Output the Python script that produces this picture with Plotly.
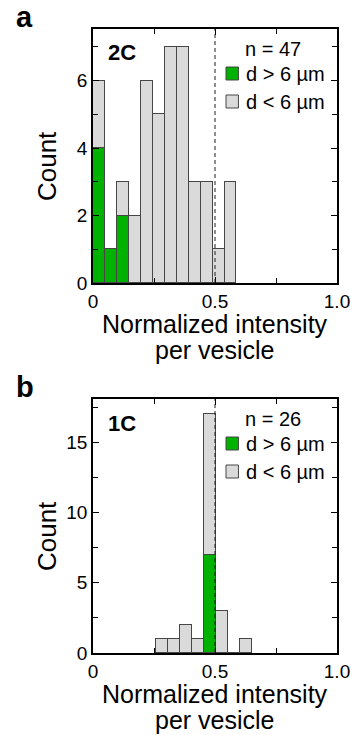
import plotly.graph_objects as go

# ---------------- data ----------------
# panel a (2C)
a_bin_centers = [0.0245, 0.0735, 0.1225, 0.1715, 0.2205, 0.2695, 0.3185, 0.3675, 0.4165, 0.4655, 0.5145, 0.5635]
a_green = [4, 1, 2, 0, 0, 0, 0, 0, 0, 0, 0, 0]          # d > 6 um
a_gray = [2, 0, 1, 2, 6, 5, 7, 7, 3, 3, 1, 3]           # d < 6 um (stacked on top)
a_n = 47
# panel b (1C)
b_bin_centers = [0.2833, 0.3323, 0.3813, 0.4303, 0.4793, 0.5283, 0.5773, 0.6263]
b_green = [0, 0, 0, 0, 7, 0, 0, 0]
b_gray = [1, 1, 2, 1, 10, 3, 0, 1]
b_n = 26
bin_width = 0.049

x_tickvals = [0, 0.5, 1.0]
x_ticktext = ["0", "0.5", "1.0"]
a_ytickvals = [0, 2, 4, 6]
b_ytickvals = [0, 5, 10, 15]
a_yrange = [0, 7.53]
b_yrange = [0, 18.1]
threshold = 0.5

GREEN = "rgb(0,178,0)"
GRAY = "rgb(218,218,218)"
EDGE = "rgb(70,70,70)"
FONT = "Liberation Sans, Arial, sans-serif"

W, H = 362, 735
L, R, T, B = 93, 14, 29, 82
PW, PH = W - L - R, H - T - B


def px(x):
    return (x - L) / PW


def py(y):
    return (H - B - y) / PH


fig = go.Figure()

for xa, ya, centers, green, gray in (("x", "y", a_bin_centers, a_green, a_gray),
                                      ("x2", "y2", b_bin_centers, b_green, b_gray)):
    fig.add_trace(go.Bar(x=centers, y=green, width=bin_width,
                         marker=dict(color=GREEN, line=dict(color=EDGE, width=1)),
                         xaxis=xa, yaxis=ya, showlegend=False))
    fig.add_trace(go.Bar(x=centers, y=gray, width=bin_width,
                         marker=dict(color=GRAY, line=dict(color=EDGE, width=1)),
                         xaxis=xa, yaxis=ya, showlegend=False))

# invisible traces so the mirrored (top / right) tick axes are drawn
for xa, ya in (("x3", "y3"), ("x4", "y4")):
    fig.add_trace(go.Scatter(x=[None], y=[None], xaxis=xa, yaxis=ya, showlegend=False, hoverinfo="skip"))

tick_common = dict(ticks="inside", ticklen=6, tickwidth=1.3, tickcolor="black",
                   showgrid=False, zeroline=False)
axis_common = dict(showline=True, linecolor="black", linewidth=1.5, mirror=True,
                   tickfont=dict(family=FONT, size=19, color="black"), **tick_common)


def minor(dt):
    return dict(ticks="inside", dtick=dt, tick0=0, ticklen=5, tickcolor="black", tickwidth=1.3, showgrid=False)


ya_bottom = py(283)
yb_top = py(399)

fig.update_layout(
    width=W, height=H,
    margin=dict(l=L, r=R, t=T, b=B, pad=0),
    paper_bgcolor="white", plot_bgcolor="white",
    barmode="stack", bargap=0,
    xaxis=dict(domain=[0, 1], anchor="y", range=[0, 1], tickvals=x_tickvals, ticktext=x_ticktext,
               minor=minor(0.25), **axis_common),
    yaxis=dict(domain=[ya_bottom, 1], anchor="x", range=a_yrange, tickvals=a_ytickvals,
               minor=minor(1), **axis_common),
    xaxis2=dict(domain=[0, 1], anchor="y2", range=[0, 1], tickvals=x_tickvals, ticktext=x_ticktext,
                minor=minor(0.25), **axis_common),
    yaxis2=dict(domain=[0, yb_top], anchor="x2", range=b_yrange, tickvals=b_ytickvals,
                minor=minor(2.5), **axis_common),
    # opposite-side tick axes
    xaxis3=dict(overlaying="x", anchor="y", side="top", range=[0, 1], tickvals=x_tickvals,
                showticklabels=False, minor=minor(0.25), **tick_common),
    yaxis3=dict(overlaying="y", anchor="x", side="right", range=a_yrange, tickvals=a_ytickvals,
                showticklabels=False, minor=minor(1), **tick_common),
    xaxis4=dict(overlaying="x2", anchor="y2", side="top", range=[0, 1], tickvals=x_tickvals,
                showticklabels=False, minor=minor(0.25), **tick_common),
    yaxis4=dict(overlaying="y2", anchor="x2", side="right", range=b_yrange, tickvals=b_ytickvals,
                showticklabels=False, minor=minor(2.5), **tick_common),
)

# dashed threshold lines
for xr, yr in (("x", "y domain"), ("x2", "y2 domain")):
    fig.add_shape(type="line", xref=xr, yref=yr, x0=threshold, x1=threshold, y0=0, y1=1,
                  line=dict(color="rgb(30,30,30)", width=1, dash="4px,3px"), layer="above")

ann = []


def text(x, y, s, size, bold=False, xanchor="center", angle=0):
    ann.append(dict(x=px(x), y=py(y), xref="paper", yref="paper", text=("<b>%s</b>" % s) if bold else s,
                    showarrow=False, xanchor=xanchor, yanchor="middle", textangle=angle,
                    font=dict(family=FONT, size=size, color="black")))


for off, lab, tag, n in ((0, "a", "2C", a_n), (370, "b", "1C", b_n)):
    text(10, 17 + off, lab, 29, bold=True, xanchor="left")
    text(107, 53 + off, tag, 22, bold=True, xanchor="left")
    text(281, 49 + off, "n = %d" % n, 20)
    text(251, 74 + off, "d > 6 µm", 20, xanchor="left")
    text(251, 102 + off, "d < 6 µm", 20, xanchor="left")
    text(45, 166 + off, "Count", 26, angle=-90)
    text(221, 324 + off, "Normalized intensity", 25)
    text(221, 350 + off, "per vesicle", 25)
    # legend swatches
    for yc, col in ((73.5, GREEN), (101.5, GRAY)):
        fig.add_shape(type="rect", xref="paper", yref="paper",
                      x0=px(232), x1=px(245), y0=py(yc + 6.5 + off), y1=py(yc - 6.5 + off),
                      fillcolor=col, line=dict(color=EDGE, width=1))

fig.update_layout(annotations=ann)

fig.write_html("out.html")
